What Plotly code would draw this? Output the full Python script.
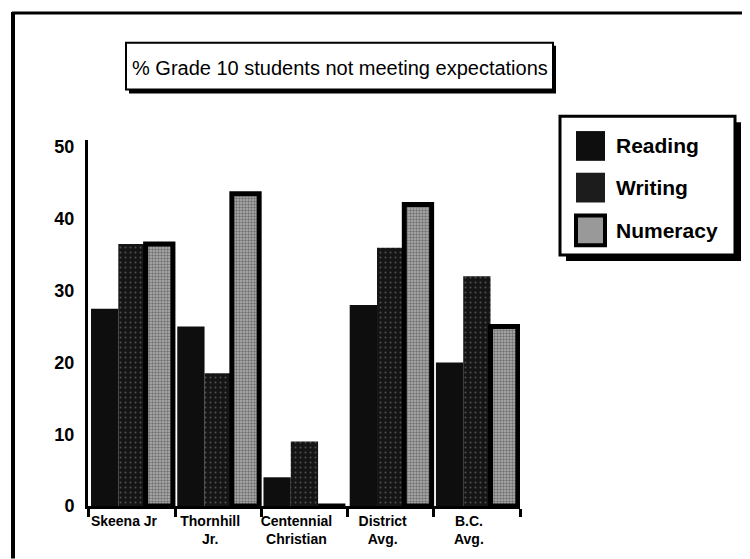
import plotly.graph_objects as go

categories = ["Skeena Jr", "Thornhill<br>Jr.", "Centennial<br>Christian", "District<br>Avg.", "B.C.<br>Avg."]
reading = [27.5, 25, 4, 28, 20]
writing = [36.5, 18.5, 9, 36, 32]
numeracy = [36.5, 43.5, 0, 42, 25]
series_names = ["Reading", "Writing", "Numeracy"]
y_ticks = [0, 10, 20, 30, 40, 50]
title_text = "% Grade 10 students not meeting expectations"

W, H = 750, 559
OFF = 8  # page body margin in the browser
L, R, T, B = 88, 520, 140, 509  # plot area in page pixels


def px(xp):
    return (xp - L) / (R - L)


def py(yp):
    return (B - yp) / (B - T)


fig = go.Figure()
fig.add_trace(go.Bar(
    x=categories, y=reading, name=series_names[0],
    marker=dict(color="#0e0e0e", line=dict(width=0)),
))
fig.add_trace(go.Bar(
    x=categories, y=writing, name=series_names[1],
    marker=dict(color="#151515", line=dict(width=0),
                pattern=dict(shape=".", fgcolor="#8a8a8a", size=5, solidity=0.12, fillmode="overlay")),
))
fig.add_trace(go.Bar(
    x=categories, y=numeracy, name=series_names[2],
    marker=dict(color="#b0b0b0", line=dict(width=5, color="#000"),
                pattern=dict(shape=".", fgcolor="#333", size=3, solidity=0.5, fillmode="overlay")),
))

shapes = []
# outer frame
shapes.append(dict(type="line", xref="paper", yref="paper", x0=px(12), x1=px(752), y0=py(12), y1=py(12),
                   line=dict(color="#000", width=3)))
shapes.append(dict(type="line", xref="paper", yref="paper", x0=px(13), x1=px(13), y0=py(11), y1=py(562),
                   line=dict(color="#000", width=4)))
# title box with shadow
shapes.append(dict(type="rect", xref="paper", yref="paper", x0=px(129), x1=px(556), y0=py(45), y1=py(93),
                   fillcolor="#000", line=dict(width=0)))
shapes.append(dict(type="rect", xref="paper", yref="paper", x0=px(126), x1=px(553), y0=py(42), y1=py(89),
                   fillcolor="#fff", line=dict(color="#000", width=2)))
# legend box with shadow
shapes.append(dict(type="rect", xref="paper", yref="paper", x0=px(566), x1=px(741), y0=py(122), y1=py(262),
                   fillcolor="#000", line=dict(width=0)))
shapes.append(dict(type="rect", xref="paper", yref="paper", x0=px(560), x1=px(735), y0=py(116), y1=py(256),
                   fillcolor="#fff", line=dict(color="#000", width=3)))
swatch_fill = ["#0e0e0e", "#1c1c1c", "#999999"]
swatch_line = [0, 0, 4]
row_y = [146, 188, 231]
for i, name in enumerate(series_names):
    shapes.append(dict(type="rect", xref="paper", yref="paper", x0=px(576), x1=px(605),
                       y0=py(row_y[i] - 15), y1=py(row_y[i] + 15),
                       fillcolor=swatch_fill[i], line=dict(color="#000", width=swatch_line[i])))

annotations = [dict(x=px(340), y=py(67), xref="paper", yref="paper", text=title_text, showarrow=False,
                    font=dict(family="Liberation Sans, Arial, sans-serif", size=20, color="#000"),
                    xanchor="center", yanchor="middle")]
for i, name in enumerate(series_names):
    annotations.append(dict(x=px(614), y=py(row_y[i]), xref="paper", yref="paper", text="<b>%s</b>" % name,
                            showarrow=False, xanchor="left", yanchor="middle",
                            font=dict(family="Liberation Sans, Arial, sans-serif", size=21, color="#000")))

fig.update_layout(
    width=W - OFF, height=H - OFF,
    margin=dict(l=L - OFF, r=W - R, t=T - OFF, b=H - B, pad=0),
    paper_bgcolor="#fff", plot_bgcolor="#fff",
    barmode="group", bargap=0.05, bargroupgap=0,
    showlegend=False,
    shapes=shapes, annotations=annotations,
)
fig.update_xaxes(
    range=[-0.51, 4.5], showline=True, linecolor="#000", linewidth=3,
    ticks="outside", tickson="boundaries", ticklen=8, tickwidth=3, tickcolor="#000",
    showgrid=False, zeroline=False,
    tickfont=dict(family="Liberation Sans Narrow, Arial Narrow, sans-serif", size=14, color="#000", weight="bold"),
    ticklabelshift=-8,
)
fig.update_yaxes(
    range=[0, 51], showline=True, linecolor="#000", linewidth=3,
    tickvals=y_ticks, ticktext=[str(v) for v in y_ticks], ticks="",
    showgrid=False, zeroline=False,
    tickfont=dict(family="Liberation Sans, Arial, sans-serif", size=18, color="#000", weight="bold"),
    ticklabelstandoff=7,
)

fig.write_html("out.html")
